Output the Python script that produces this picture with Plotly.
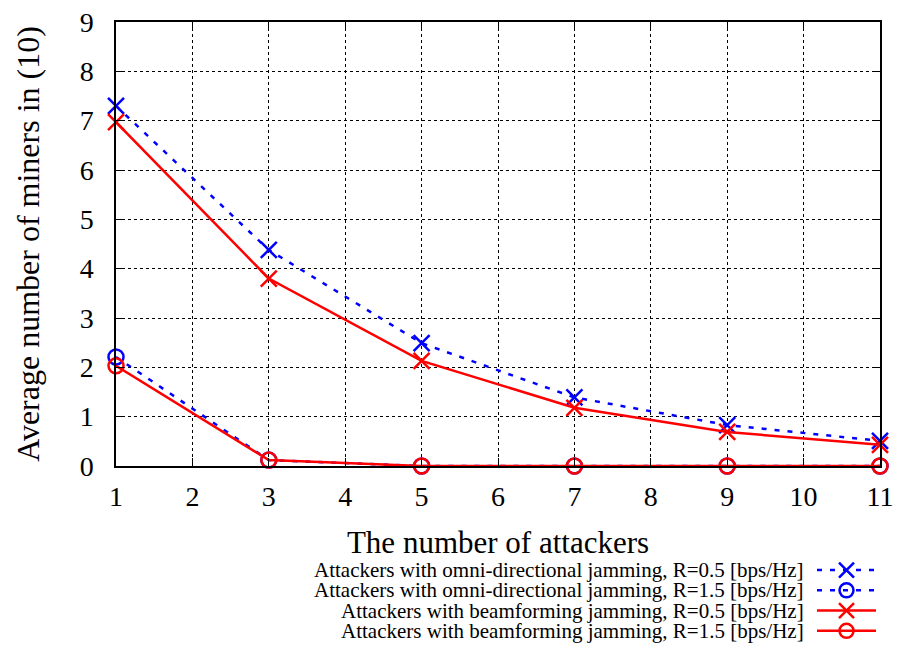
import plotly.graph_objects as go

attackers = [1, 3, 5, 7, 9, 11]
omni_r05 = [7.30, 4.38, 2.49, 1.39, 0.83, 0.51]
omni_r15 = [2.21, 0.12, 0.0, 0.0, 0.0, 0.0]
beam_r05 = [6.97, 3.80, 2.13, 1.18, 0.69, 0.43]
beam_r15 = [2.03, 0.12, 0.0, 0.0, 0.0, 0.0]

series_names = [
    "Attackers with omni-directional jamming, R=0.5 [bps/Hz]",
    "Attackers with omni-directional jamming, R=1.5 [bps/Hz]",
    "Attackers with beamforming jamming, R=0.5 [bps/Hz]",
    "Attackers with beamforming jamming, R=1.5 [bps/Hz]",
]
series_values = [omni_r05, omni_r15, beam_r05, beam_r15]
x_ticks = list(range(1, 12))
y_ticks = list(range(0, 10))

W, H = 908, 645
L, R, T, B = 116, 880, 22, 466

BLUE = "#0000ff"
RED = "#ff0000"
styles = [
    dict(color=BLUE, dash="5px,8px", symbol="x-thin-open", size=16),
    dict(color=BLUE, dash="5px,8px", symbol="circle-open", size=15),
    dict(color=RED, dash="solid", symbol="x-thin-open", size=16),
    dict(color=RED, dash="solid", symbol="circle-open", size=15),
]
FONT = "Liberation Serif"

fig = go.Figure()
for name, vals, st in zip(series_names, series_values, styles):
    fig.add_trace(go.Scatter(
        x=attackers, y=vals, mode="lines+markers", name=name,
        line=dict(color=st["color"], width=2.5, dash=st["dash"]),
        marker=dict(symbol=st["symbol"], size=st["size"],
                    line=dict(color=st["color"], width=2.5), color=st["color"]),
        showlegend=False, cliponaxis=False,
    ))

# manual legend (text left, sample right) on a helper axis
row_y = [570, 590, 611, 631]
leg_x0, leg_x1 = 817, 876
for i, (name, st) in enumerate(zip(series_names, styles)):
    fig.add_trace(go.Scatter(
        x=[0, 1], y=[i, i], mode="lines", xaxis="x2", yaxis="y2",
        line=dict(color=st["color"], width=2.5, dash=st["dash"]),
        showlegend=False, hoverinfo="skip",
    ))
    fig.add_trace(go.Scatter(
        x=[0.5], y=[i], mode="markers", xaxis="x2", yaxis="y2",
        marker=dict(symbol=st["symbol"], size=st["size"] - 1,
                    line=dict(color=st["color"], width=2.5), color=st["color"]),
        showlegend=False, hoverinfo="skip",
    ))
    fig.add_annotation(
        x=805 / W, y=1 - row_y[i] / H, xref="paper", yref="paper",
        text=name, showarrow=False, xanchor="right", yanchor="middle",
        font=dict(family=FONT, size=21, color="black"), borderpad=0,
    )

axis_common = dict(
    showline=True, linecolor="black", linewidth=1.5, mirror="allticks",
    ticks="inside", ticklen=8, tickwidth=1.2, tickcolor="black",
    showgrid=True, gridcolor="black", gridwidth=1, griddash="dot",
    zeroline=False, automargin=False,
    tickfont=dict(family=FONT, size=28, color="black"),
)

# legend helper axis: rows mapped linearly to pixel rows
y2_lo, y2_hi = 1 - 641 / H, 1 - 560 / H

fig.update_layout(
    width=W, height=H,
    margin=dict(l=0, r=0, t=0, b=0, autoexpand=False),
    paper_bgcolor="white", plot_bgcolor="white",
    font=dict(family=FONT, color="black"),
    xaxis=dict(domain=[L / W, R / W], range=[1, 11], tickvals=x_ticks,
               ticklabelstandoff=5,
               title=dict(text="The number of attackers", font=dict(family=FONT, size=31), standoff=20),
               **axis_common),
    yaxis=dict(domain=[1 - B / H, 1 - T / H], range=[0, 9], tickvals=y_ticks,
               ticklabelstandoff=15,
               title=dict(text="Average number of miners in (10)", font=dict(family=FONT, size=32), standoff=30),
               **axis_common),
    xaxis2=dict(domain=[leg_x0 / W, leg_x1 / W], range=[0, 1], visible=False,
                anchor="y2", automargin=False),
    yaxis2=dict(domain=[y2_lo, y2_hi], range=[3.5, -0.5], visible=False,
                anchor="x2", automargin=False),
)

fig.write_html("out.html")
